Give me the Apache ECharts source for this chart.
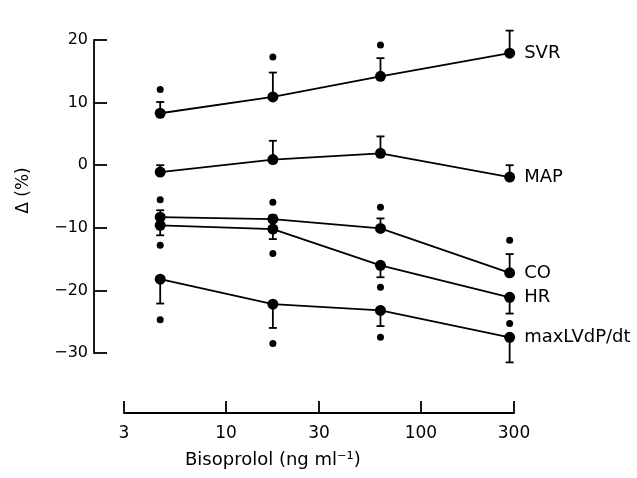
<!DOCTYPE html>
<html>
<head>
<meta charset="utf-8">
<script src="https://cdn.jsdelivr.net/npm/echarts@6/dist/echarts.min.js"></script>
<style>
  html, body { margin: 0; padding: 0; background: #fff; }
  #chart { width: 637px; height: 478px; }
</style>
</head>
<body>
<div id="chart"></div>
<script>
// bisoprolol concentrations (ng/ml)
var conc = [4.6, 17.4, 62, 285];
var xTicks = [3, 10, 30, 100, 300];

// mean change (%), end of the error bar, and the extra single dot
var svr = [8.3, 10.9, 14.2, 17.9];
var svrErr = [10.1, 14.8, 17.1, 21.5];
var svrDot = [12.1, 17.3, 19.2, 23.6];

var map = [-1.1, 0.9, 1.9, -1.9];
var mapErr = [0, 3.9, 4.6, 0];

var co = [-8.3, -8.6, -10.1, -17.2];
var coErr = [-7.2, -8.0, -8.5, -14.2];
var coDot = [-5.5, -5.9, -6.7, -12];

var hr = [-9.6, -10.2, -16.0, -21.1];
var hrErr = [-11.2, -11.8, -17.9, -23.7];
var hrDot = [-12.8, -14.1, -19.5, -25.3];

var lv = [-18.2, -22.2, -23.2, -27.5];
var lvErr = [-22.1, -26.0, -25.7, -31.5];
var lvDot = [-24.7, -28.5, -27.5, -33.6];

var FONT = 'DejaVu Sans';
var INK = '#000';

function pairs(ys) {
  return ys.map(function (y, i) { return [conc[i], y]; });
}

function errRender(params, api) {
  var p0 = api.coord([api.value(0), api.value(1)]);
  var p1 = api.coord([api.value(0), api.value(2)]);
  var st = { stroke: INK, lineWidth: 1.8 };
  return {
    type: 'group',
    children: [
      { type: 'line', shape: { x1: p0[0], y1: p0[1], x2: p1[0], y2: p1[1] }, style: st },
      { type: 'line', shape: { x1: p1[0] - 4, y1: p1[1], x2: p1[0] + 4, y2: p1[1] }, style: st }
    ]
  };
}

var series = [];
function addGroup(name, mean, err, dots) {
  series.push({
    type: 'custom',
    renderItem: errRender,
    encode: { x: 0, y: [1, 2] },
    data: mean.map(function (y, i) { return [conc[i], y, err[i]]; }),
    z: 1
  });
  series.push({
    name: name,
    type: 'line',
    data: pairs(mean),
    symbol: 'circle',
    symbolSize: 11,
    itemStyle: { color: INK, opacity: 1 },
    lineStyle: { color: INK, width: 1.8 },
    label: {
      show: true,
      position: 'right',
      distance: 9,
      fontFamily: FONT,
      fontSize: 18,
      color: INK,
      formatter: function (p) { return p.dataIndex === conc.length - 1 ? name : ''; }
    },
    z: 3
  });
  if (dots) {
    series.push({
      type: 'scatter',
      data: pairs(dots),
      symbol: 'circle',
      symbolSize: 7,
      itemStyle: { color: INK, opacity: 1 },
      z: 2
    });
  }
}

addGroup('SVR', svr, svrErr, svrDot);
addGroup('MAP', map, mapErr, null);
addGroup('CO', co, coErr, coDot);
addGroup('HR', hr, hrErr, hrDot);
addGroup('maxLVdP/dt', lv, lvErr, lvDot);

var chart = echarts.init(document.getElementById('chart'));
chart.setOption({
  backgroundColor: '#fff',
  animation: false,
  title: {
    text: 'Bisoprolol (ng ml\u207B\u00B9)',
    left: 180,
    top: 446,
    textStyle: { fontFamily: FONT, fontSize: 18, fontWeight: 'normal', color: INK }
  },
  grid: { left: 124, right: 123, top: 40, height: 313 },
  xAxis: {
    type: 'log',
    logBase: 10,
    min: 3,
    max: 300,
    offset: 60,
    axisLine: { onZero: false, lineStyle: { color: INK, width: 1.8 } },
    axisTick: { inside: true, length: 12, customValues: xTicks, lineStyle: { color: INK, width: 1.8 } },
    axisLabel: {
      customValues: xTicks,
      margin: 12,
      fontFamily: FONT,
      fontSize: 17,
      color: INK
    },
    splitLine: { show: false },
    minorTick: { show: false }
  },
  yAxis: {
    type: 'value',
    min: -30,
    max: 20,
    interval: 10,
    offset: 30,
    name: '\u0394 (%)',
    nameLocation: 'middle',
    nameRotate: 90,
    nameGap: 62,
    nameTextStyle: { fontFamily: FONT, fontSize: 17, color: INK, padding: [0, 0, 0, 12] },
    axisLine: { show: true, lineStyle: { color: INK, width: 1.8 } },
    axisTick: { show: true, inside: true, length: 13, lineStyle: { color: INK, width: 1.8 } },
    axisLabel: {
      margin: 6,
      fontFamily: FONT,
      fontSize: 16,
      color: INK,
      formatter: function (v) { return String(v).replace('-', '\u2212'); }
    },
    splitLine: { show: false }
  },
  series: series
});
</script>
</body>
</html>
